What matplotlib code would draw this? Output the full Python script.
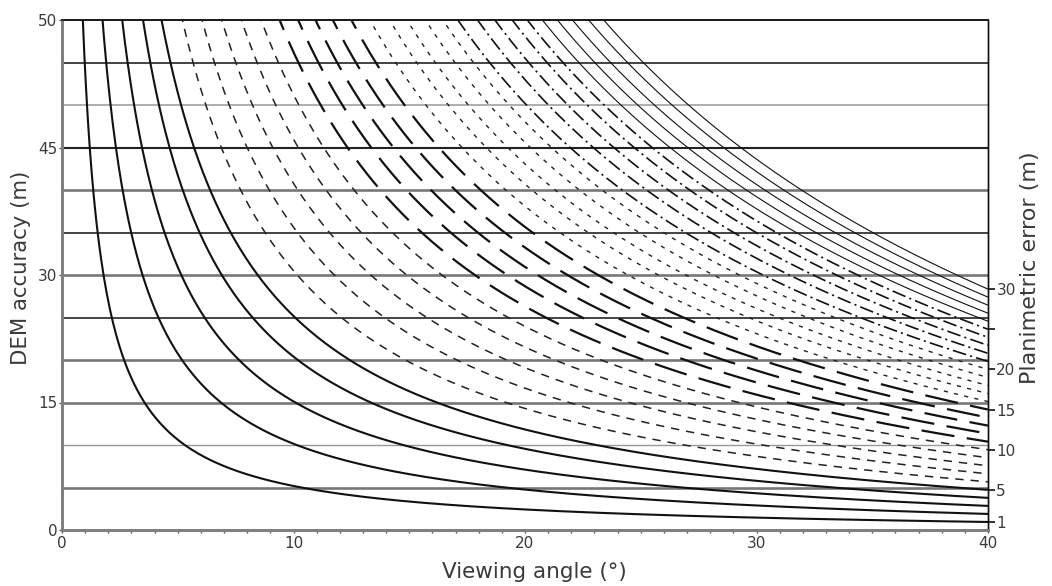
import numpy as np
import matplotlib
matplotlib.use("Agg")
import matplotlib.pyplot as plt

# ---------------- data ----------------
# planimetric error of each curve (m), read on the right axis at 40 deg
planimetric_error = list(range(1, 31))
# viewing angle (deg) at which each curve leaves the top of the chart
top_angle = [0.9, 1.75, 2.6, 3.5, 4.3, 5.2, 6.05, 6.9, 7.75, 8.6,
             9.4, 10.2, 10.95, 11.7, 12.5, 13.3, 14.15, 14.9, 15.7, 16.45,
             17.1, 17.95, 18.7, 19.45, 20.1, 20.75, 21.4, 22.05, 22.75, 23.4]
grid_values = [5, 10, 15, 20, 25, 30, 35, 40, 45, 50, 55]
y_ticks = [0, 15, 30, 45, 60]
y_ticklabels = ["0", "15", "30", "45", "50"]
x_ticks = [0, 10, 20, 30, 40]
right_ticks = [1, 5, 10, 15, 20, 25, 30]
right_ticklabels = ["1", "5", "10", "15", "20", "", "30"]

# ---------------- styling ----------------
plt.rcParams["font.family"] = ["DejaVu Sans"]
plt.rcParams["lines.scale_dashes"] = False
TXT = "#3a3a3a"

fig = plt.figure(figsize=(10.52, 5.86), dpi=100)
ax = fig.add_axes([62 / 1052, 1 - 530 / 586, (988 - 62) / 1052, 510 / 586])
ax.set_xlim(0, 40)
ax.set_ylim(0, 60)

# horizontal reference lines
grid_style = {5: ("#777777", 1.9), 10: ("#999999", 1.0), 15: ("#777777", 1.9),
              20: ("#777777", 1.9), 25: ("#111111", 1.1), 30: ("#777777", 1.9),
              35: ("#111111", 1.1), 40: ("#777777", 1.9), 45: ("#222222", 1.5),
              50: ("#999999", 1.1), 55: ("#111111", 1.1)}
for v in grid_values:
    c, w = grid_style[v]
    ax.axhline(v, color=c, lw=w, zorder=1)

# right axis (planimetric error), same pixel span, different scale
ax2 = ax.twinx()
ytop_right = 510 / 8.03
ax2.set_ylim(0, ytop_right)

group_styles = [
    dict(ls="-", lw=1.5, color="#111111"),
    dict(ls=(0, (6.0, 5.0)), lw=1.1, color="#222222"),
    dict(ls=(0, (24, 9)), lw=1.6, color="#111111"),
    dict(ls=(0, (3.0, 4.5)), lw=1.0, color="#222222"),
    dict(ls=(0, (10, 3, 1.5, 3)), lw=1.2, color="#111111"),
    dict(ls="-", lw=0.8, color="#111111"),
]

cot40 = 1 / np.tan(np.radians(40))
for i, (pe, ta) in enumerate(zip(planimetric_error, top_angle)):
    th = np.linspace(ta * 0.85, 40, 600)
    cot = 1 / np.tan(np.radians(th))
    cot_top = 1 / np.tan(np.radians(ta))
    y = pe + (ytop_right - pe) * (cot - cot40) / (cot_top - cot40)
    ax2.plot(th, y, zorder=3, **group_styles[i // 5])

# axes / ticks
ax.set_xticks(x_ticks)
ax.set_xticks(np.arange(0, 41, 1), minor=True)
ax.set_yticks(y_ticks)
ax.set_yticklabels(y_ticklabels)
ax.tick_params(axis="x", which="both", direction="out", length=2.5, width=1,
               color="#555555", labelsize=11, labelcolor=TXT, pad=2)
ax.tick_params(axis="y", which="both", direction="out", length=2.5, width=1,
               color="#555555", labelsize=11, labelcolor=TXT, pad=1)
ax2.set_yticks(right_ticks)
ax2.set_yticklabels(right_ticklabels)
ax2.tick_params(axis="y", direction="out", length=5, width=1.2, color="#111111",
                labelsize=11, labelcolor=TXT, pad=1)

for a in (ax, ax2):
    a.spines["left"].set_color("#808080")
    a.spines["left"].set_linewidth(2.0)
    a.spines["bottom"].set_color("#808080")
    a.spines["bottom"].set_linewidth(2.0)
    a.spines["top"].set_color("#111111")
    a.spines["top"].set_linewidth(1.1)
    a.spines["right"].set_color("#111111")
    a.spines["right"].set_linewidth(1.0)

ax.set_xlabel("Viewing angle (°)", fontsize=15.5, color=TXT)
ax.xaxis.set_label_coords(0.51, -0.062)
ax.set_ylabel("DEM accuracy (m)", fontsize=15.3, color=TXT)
ax.yaxis.set_label_coords(-0.034, 0.515)
ax2.set_ylabel("Planimetric error (m)", fontsize=16, color=TXT)
ax2.yaxis.set_label_coords(1.035, 0.515)

fig.savefig("out.png", dpi=100)
